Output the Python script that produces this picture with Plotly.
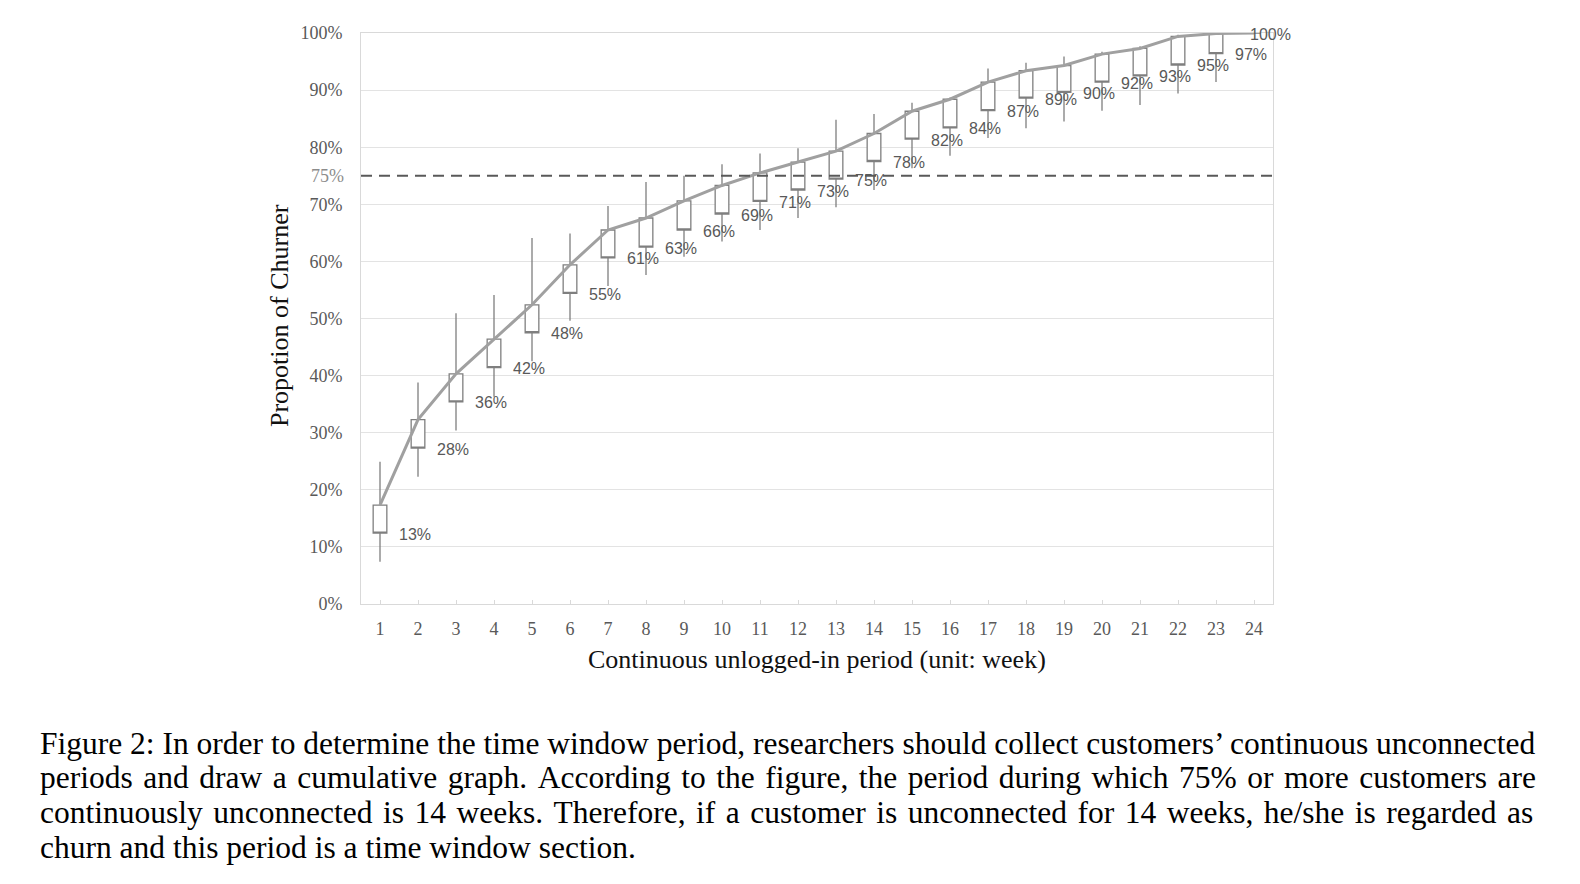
import plotly.graph_objects as go

# weekly cumulative churn boxes (percent)
weeks = list(range(1, 25))
box_low = [12.4, 27.3, 35.4, 41.4, 47.5, 54.4, 60.6, 62.5, 65.5, 68.3, 70.5, 72.5,
           74.4, 77.5, 81.4, 83.4, 86.4, 88.6, 89.6, 91.4, 92.5, 94.4, 96.4, 100.0]
box_high = [17.3, 32.3, 40.3, 46.4, 52.4, 59.4, 65.5, 67.6, 70.6, 73.3, 75.5, 77.4,
            79.3, 82.4, 86.3, 88.4, 91.4, 93.4, 94.3, 96.3, 97.3, 99.4, 99.9, 100.0]
whisk_low = [7.4, 22.3, 30.4, 36.3, 42.5, 49.6, 55.7, 57.6, 60.8, 63.5, 65.5, 67.6,
             69.5, 72.5, 76.3, 78.5, 81.6, 83.3, 84.5, 86.4, 87.4, 89.4, 91.4, 100.0]
whisk_high = [24.9, 38.8, 50.9, 54.1, 64.1, 64.9, 69.7, 73.9, 75.0, 77.0, 78.9, 79.8,
              84.8, 85.8, 87.8, 88.7, 93.8, 94.8, 95.9, 96.7, 97.7, 99.7, 100.0, 100.0]
point_labels = ["13%", "28%", "36%", "42%", "48%", "55%", "61%", "63%", "66%", "69%",
                "71%", "73%", "75%", "78%", "82%", "84%", "87%", "89%", "90%", "92%",
                "93%", "95%", "97%", "100%"]
y_ticks = [0, 10, 20, 30, 40, 50, 60, 70, 80, 90, 100]
y_ticktext = ["0%", "10%", "20%", "30%", "40%", "50%", "60%", "70%", "80%", "90%", "100%"]
threshold = 75

caption_lines = [
    "Figure 2: In order to determine the time window period, researchers should collect customers\u2019 continuous unconnected",
    "periods and draw a cumulative graph. According to the figure, the period during which 75% or more customers are",
    "continuously unconnected is 14 weeks. Therefore, if a customer is unconnected for 14 weeks, he/she is regarded as",
    "churn and this period is a time window section.",
]

W, H = 1580, 884
L, R, T, B = 361, 1273, 33, 604  # plot area in screen pixels
PAGE = 8  # default body margin of the html page


def px(x):
    return (x - L) / (R - L)


def py(y):
    return (B - y) / (B - T)


SERIF = "Liberation Serif"
GRAY = "#7f7f7f"

fig = go.Figure()
fig.add_trace(go.Box(
    x=weeks, q1=box_low, median=box_low, q3=box_high,
    lowerfence=whisk_low, upperfence=whisk_high,
    width=0.36, whiskerwidth=0, boxpoints=False,
    fillcolor="white", line=dict(color=GRAY, width=1.3),
    hoverinfo="skip",
))
fig.add_trace(go.Scatter(
    x=weeks, y=box_high, mode="lines",
    line=dict(color="#a0a0a0", width=3), hoverinfo="skip",
))

fig.add_shape(type="line", xref="paper", x0=0, x1=1, y0=threshold, y1=threshold,
              line=dict(color="#595959", width=2, dash="11px,7px"))

for i, (w, v, t) in enumerate(zip(weeks, box_low, point_labels)):
    last = i == len(weeks) - 1
    fig.add_annotation(x=w, y=v, text=t, showarrow=False, xanchor="left", yanchor="middle",
                       xshift=-6 if last else 17, yshift=-1,
                       font=dict(family="Liberation Sans", size=16, color="#595959"))

fig.add_annotation(xref="paper", yref="y", x=px(346), y=threshold, text=f"{threshold}%",
                   showarrow=False, xanchor="right", yanchor="middle",
                   font=dict(family=SERIF, size=18, color="#8c8c8c"))

fig.add_annotation(xref="paper", yref="paper", x=px(279), y=py(316), textangle=-90,
                   text="Propotion of Churner", showarrow=False,
                   xanchor="center", yanchor="middle",
                   font=dict(family=SERIF, size=26, color="#111"))
fig.add_annotation(xref="paper", yref="paper", x=px(817), y=py(659),
                   text="Continuous unlogged-in period (unit: week)", showarrow=False,
                   xanchor="center", yanchor="middle",
                   font=dict(family=SERIF, size=26, color="#111"))

# caption; the middle lines get a hair space per gap to mimic the justified text
for k, line in enumerate(caption_lines):
    if k in (1, 2):
        line = line.replace(" ", " \u200a")
    fig.add_annotation(xref="paper", yref="paper", x=px(38), y=py(743 + k * 34.7),
                       text=line, showarrow=False, xanchor="left", yanchor="middle",
                       font=dict(family=SERIF, size=31.5, color="black"))

fig.update_xaxes(range=[0.5, 24.5], tickvals=weeks, showgrid=False,
                 showline=True, linecolor="#d9d9d9", linewidth=1, mirror=True,
                 ticks="inside", ticklen=4, tickcolor="#d9d9d9",
                 ticklabelstandoff=8,
                 tickfont=dict(family=SERIF, size=18, color="#595959"), zeroline=False)
fig.update_yaxes(range=[0, 100], tickvals=y_ticks, ticktext=y_ticktext,
                 showgrid=True, gridcolor="#e3e3e3", gridwidth=1,
                 showline=True, linecolor="#d9d9d9", linewidth=1, mirror=True,
                 ticks="", ticklabelstandoff=14,
                 tickfont=dict(family=SERIF, size=18, color="#595959"), zeroline=False)

fig.update_layout(
    width=W, height=H, showlegend=False,
    margin=dict(l=L - PAGE, r=W - R + PAGE, t=T - PAGE, b=H - B + PAGE),
    paper_bgcolor="white", plot_bgcolor="white",
)

fig.write_html("out.html")
